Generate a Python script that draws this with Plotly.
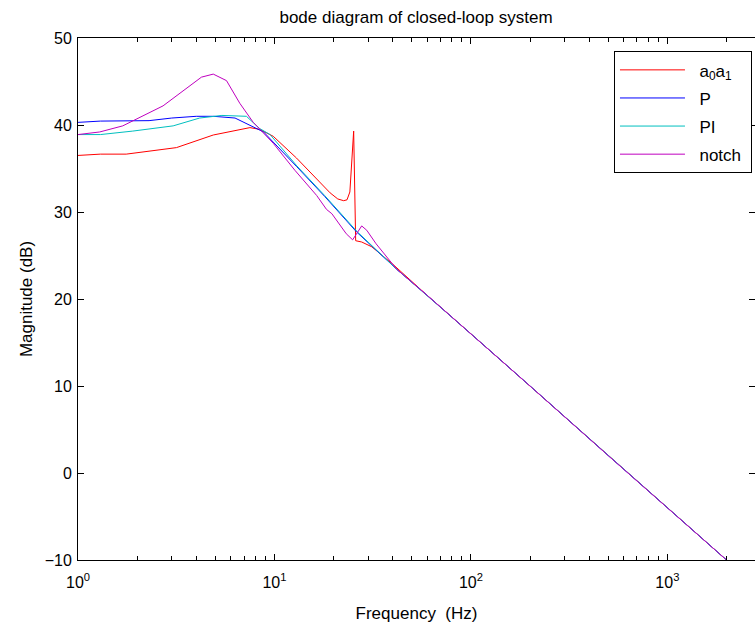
import plotly.graph_objects as go

# ---- data ----
f_a0a1 = [1, 1.3, 1.76, 3.17, 4.88, 7.5, 8.4, 9.86, 12.95, 16, 18.4, 19.2, 21, 22.5, 23.4,
          24.2, 25.3, 25.9, 27.8, 31.3, 40, 60, 100, 200, 500, 1000, 2000]
m_a0a1 = [36.5, 36.65, 36.65, 37.4, 38.85, 39.7, 39.5, 38.7, 36.2, 34.0, 32.6, 32.2, 31.5, 31.3, 31.4,
          32.3, 39.3, 26.7, 26.55, 26.0, 24.0, 20.4, 16.0, 10.0, 2.0, -4.0, -10.0]

f_P = [1, 1.3, 2.3, 3.0, 4.0, 4.9, 6.3, 7.8, 8.8, 13, 18, 26.2, 42, 60, 100, 200, 500, 1000, 2000]
m_P = [40.3, 40.45, 40.5, 40.8, 41.0, 41.0, 40.8, 39.8, 39.2, 35.2, 31.8, 27.7, 23.4, 20.4, 16.0, 10.0, 2.0, -4.0, -10.0]

f_PI = [1, 1.3, 1.9, 3.05, 4.16, 5.4, 7.2, 8.4, 9.5, 13, 18, 26.2, 42, 60, 100, 200, 500, 1000, 2000]
m_PI = [38.9, 38.9, 39.3, 39.9, 40.8, 41.1, 41.0, 39.6, 38.9, 35.3, 31.9, 27.8, 23.4, 20.4, 16.0, 10.0, 2.0, -4.0, -10.0]

f_notch = [1, 1.29, 1.69, 2.71, 4.25, 4.88, 5.7, 6.66, 7.8, 9.86, 12.7, 16.4, 18.4, 19.6, 23.2, 25,
           27.8, 29.5, 32.9, 42, 60, 100, 200, 500, 1000, 2000]
m_notch = [38.9, 39.2, 39.9, 42.2, 45.5, 45.85, 45.1, 42.5, 40.3, 37.9, 34.8, 31.9, 30.3, 29.8, 27.5, 26.8,
           28.4, 27.9, 26.35, 23.4, 20.4, 16.0, 10.0, 2.0, -4.0, -10.0]

legend_names = ["a<sub>0</sub>a<sub>1</sub>", "P", "PI", "notch"]
colors = ["#FF0000", "#0000FF", "#00BFBF", "#BF00BF"]
xs = [f_a0a1, f_P, f_PI, f_notch]
ys = [m_a0a1, m_P, m_PI, m_notch]

x_major = [1, 10, 100, 1000]
x_major_text = ["10<sup>0</sup>", "10<sup>1</sup>", "10<sup>2</sup>", "10<sup>3</sup>"]
x_minor = [m * d for d in [1, 10, 100, 1000] for m in range(2, 10)]
y_ticks = [-10, 0, 10, 20, 30, 40, 50]

NB = "\u00a0"
fig = go.Figure()
for i, (name, fx, my, col) in enumerate(zip(legend_names, xs, ys, colors)):
    label = NB * 2 + name + (NB if name == "notch" else "")
    fig.add_trace(go.Scatter(x=fx, y=my, mode="lines", name=label,
                             legendgroup=f"g{i}",
                             line=dict(color=col, width=1)))

font_family = "Liberation Sans, Arial, sans-serif"
fig.update_layout(
    width=755, height=628,
    margin=dict(l=78, r=0, t=38, b=68, autoexpand=False),
    paper_bgcolor="white", plot_bgcolor="white",
    font=dict(family=font_family, size=16, color="black"),
    title=dict(text="bode diagram of closed-loop system", x=0.551, xanchor="center",
               yref="container", y=0.982, yanchor="top", font=dict(size=17),
               automargin=False),
    showlegend=True,
    legend=dict(x=0.7917, y=0.9745, xanchor="left", yanchor="top",
                bordercolor="black", borderwidth=1, bgcolor="white",
                itemwidth=65, tracegroupgap=3, font=dict(size=17)),
    xaxis=dict(type="log", range=[0, 3.446], automargin=False,
               tickmode="array", tickvals=x_major, ticktext=x_major_text,
               ticks="inside", ticklen=6, tickcolor="black",
               ticklabelstandoff=8,
               showline=True, linecolor="black", linewidth=1, mirror="ticks",
               showgrid=False, zeroline=False,
               minor=dict(tickmode="array", tickvals=x_minor, ticks="inside",
                          ticklen=4, tickcolor="black", showgrid=False),
               title=dict(text="Frequency  (Hz)", font=dict(size=17), standoff=16)),
    yaxis=dict(range=[-10, 50], tickmode="array", tickvals=y_ticks, automargin=False,
               ticks="inside", ticklen=6, tickcolor="black",
               ticklabelstandoff=2,
               showline=True, linecolor="black", linewidth=1, mirror="ticks",
               showgrid=False, zeroline=False,
               title=dict(text="Magnitude (dB)", font=dict(size=17), standoff=7)),
)

fig.write_html("out.html",
               config={"displayModeBar": False},
               post_script="document.body.style.margin='0px';document.body.style.overflow='hidden';")
